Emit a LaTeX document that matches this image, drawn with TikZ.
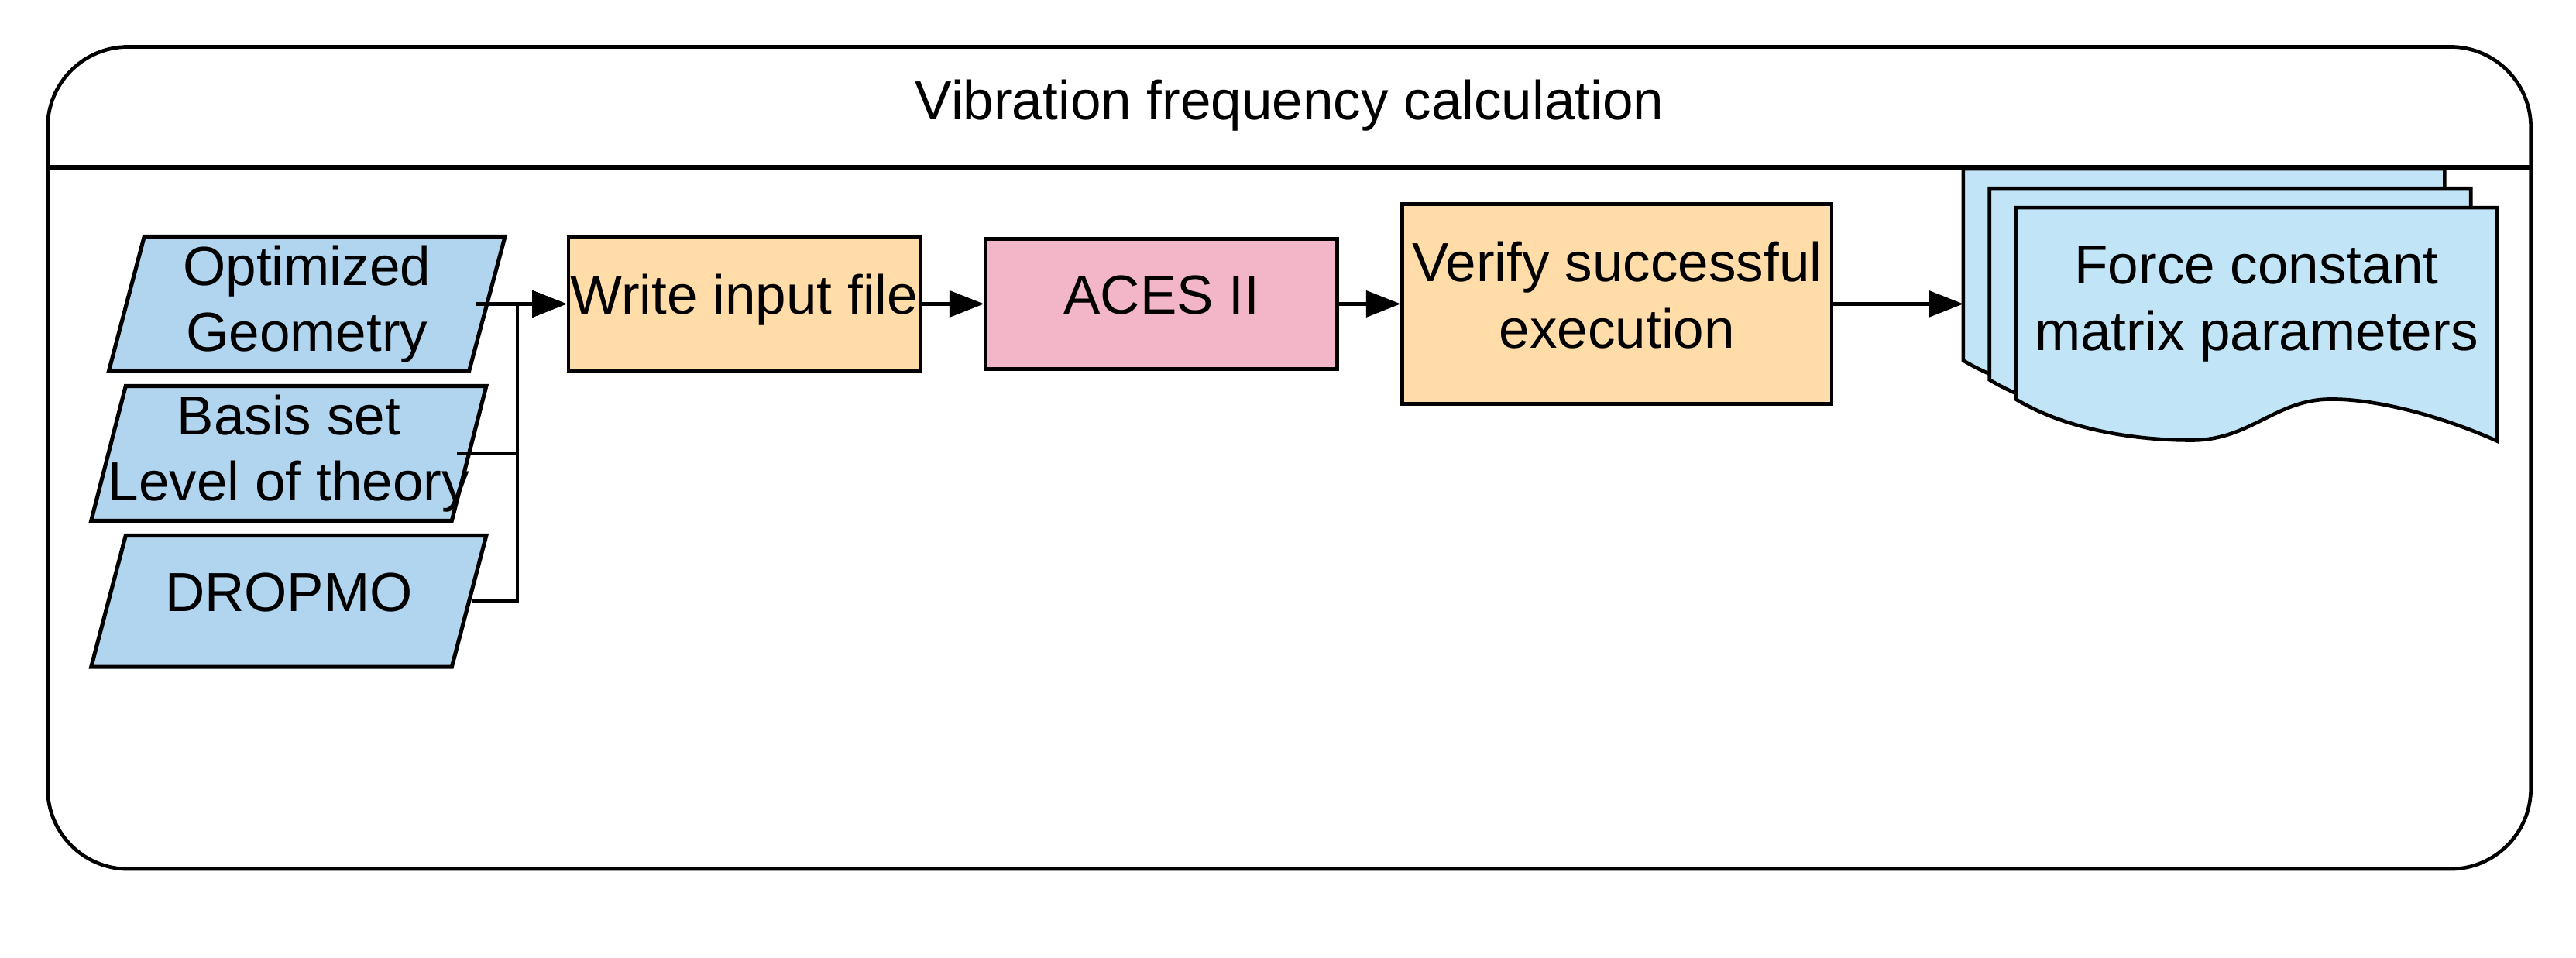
\documentclass[tikz,border=0pt]{standalone}
\usepackage{fontspec}
\setmainfont{Liberation Sans}
\usepackage{tikz}
\usetikzlibrary{arrows.meta}

\definecolor{inblue}{HTML}{B1D5EE}
\definecolor{docblue}{HTML}{C1E4F6}
\definecolor{steporange}{HTML}{FFDCA8}
\definecolor{acespink}{HTML}{F3B5C8}

\begin{document}
\begin{tikzpicture}[x = 1pt, y = -1pt,
		font = \fontsize{33.5}{40.2}\selectfont,
		stepbox/.style = {draw = black, line width = 2.2pt, inner sep = 0pt, align = center},
		intext/.style = {minimum width = 219pt, minimum height = 80pt, inner sep = 0pt, align = center},
		oneline/.style = {text height = 24pt, text depth = 11.5pt},
		flow/.style = {line width = 2pt, -{Triangle[length = 21pt, width = 16pt]}}]
		\useasboundingbox (0, 0) rectangle (1568, 583);
		% container
		\draw[line width = 2.2pt, rounded corners = 49pt] (29, 28.5) rectangle (1540.5, 529);
		\draw[line width = 3pt] (29, 101.7) -- (1540.5, 101.7);
		\node[anchor = base] (title) at (785, 73) {Vibration frequency calculation};
		% inputs
		\filldraw[fill = inblue, draw = black, line width = 2.4pt] (87.8, 144) -- (307.4, 144) -- (285.5, 226) -- (66.2, 226) -- cycle;
		\filldraw[fill = inblue, draw = black, line width = 2.4pt] (76.5, 235) -- (296, 235) -- (275, 317) -- (55.5, 317) -- cycle;
		\filldraw[fill = inblue, draw = black, line width = 2.4pt] (76.5, 326) -- (296, 326) -- (275, 406) -- (55.5, 406) -- cycle;
		\node[intext] (geom) at (186.8, 185) {Optimized\\Geometry};
		\node[intext] (basis) at (175.8, 276) {Basis set\\Level of theory};
		\node[intext, oneline] (dropmo) at (175.8, 366) {DROPMO};
		% steps
		\node[stepbox, oneline, fill = steporange, minimum width = 214pt, minimum height = 81.7pt] (write) at (453, 185) {Write input file};
		\node[stepbox, oneline, fill = acespink, minimum width = 214pt, minimum height = 79pt] (aces) at (707, 185) {ACES II};
		\node[stepbox, text depth = 11pt, fill = steporange, minimum width = 261.4pt, minimum height = 121.4pt] (verify) at (984.3, 185) {Verify successful\\execution};
		% output pages
		\foreach \s in {2, 1, 0}
			\filldraw[fill = docblue, draw = black, line width = 2.2pt, shift = {(-16*\s, -11.8*\s)}] (1227, 126.4) -- (1520, 126.4) -- (1520, 268.5)
				.. controls (1490, 255) and (1450, 243) .. (1419, 243)
				.. controls (1385, 243) and (1370, 268) .. (1334, 268)
				.. controls (1295, 268) and (1255, 260) .. (1227, 243) -- cycle;
		\node[align = center] (params) at (1373.5, 185) {Force constant\\matrix parameters};
		\coordinate (join) at (315, 185);
		\coordinate (docin) at (1195, 185);
		% connectors
		\draw[flow] ([xshift = -7pt]geom.east) -- (write.west);
		\draw[flow] ([xshift = -7.5pt]basis.east) -| (join) -- (write.west);
		\draw[flow] ([xshift = 2pt]dropmo.east) -| (join) -- (write.west);
		\draw[flow] (write) -- (aces);
		\draw[flow] (aces) -- (verify);
		\draw[flow] (verify) -- (docin);
		\end{tikzpicture}
\end{document}
